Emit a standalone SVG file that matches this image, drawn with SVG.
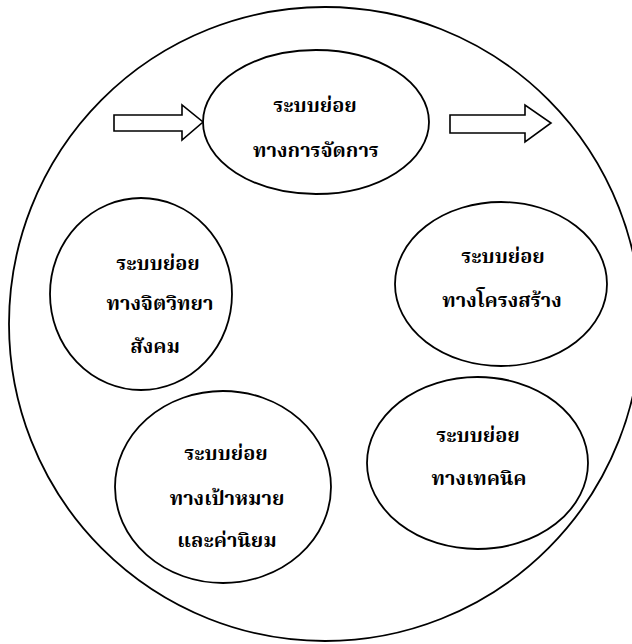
<svg xmlns="http://www.w3.org/2000/svg" width="632" height="644" viewBox="0 0 632 644">
<style>
.sh{fill:none;stroke:#000;stroke-width:1.8}
.ar{fill:#fff;stroke:#000;stroke-width:1.6;stroke-linejoin:miter}
.t{font-family:"Noto Serif Thai","Noto Sans Thai","Noto Sans","DejaVu Sans",serif;font-weight:bold;font-size:20px;text-anchor:middle;fill:#000}
</style>
<rect width="632" height="644" fill="#fff"/>
<g id="outer"><ellipse class="sh" cx="325" cy="324" rx="316" ry="317"/></g>
<g id="connectors">
<polygon class="ar" points="114,115 182,115 182,105 203,122 182,140 182,131 114,131"/>
<polygon class="ar" points="450,115 525,115 525,105 551,123 525,142 525,133 450,133"/>
</g>
<g id="management"><ellipse class="sh" cx="316" cy="122" rx="113" ry="72"/>
<text class="t" x="315" y="112">ระบบย่อย</text><text class="t" x="316" y="157">ทางการจัดการ</text></g>
<g id="psychosocial"><ellipse class="sh" cx="141" cy="294" rx="91" ry="96"/>
<text class="t" x="158" y="270">ระบบย่อย</text><text class="t" x="160" y="310">ทางจิตวิทยา</text><text class="t" x="155" y="353">สังคม</text></g>
<g id="structural"><ellipse class="sh" cx="501" cy="284" rx="106" ry="82"/>
<text class="t" x="503" y="263">ระบบย่อย</text><text class="t" x="502" y="307">ทางโครงสร้าง</text></g>
<g id="goals"><ellipse class="sh" cx="223" cy="487" rx="108" ry="96"/>
<text class="t" x="226" y="460">ระบบย่อย</text><text class="t" x="227" y="505">ทางเป้าหมาย</text><text class="t" x="227" y="547">และค่านิยม</text></g>
<g id="technical"><ellipse class="sh" cx="477.5" cy="463" rx="110.5" ry="86"/>
<text class="t" x="478" y="442">ระบบย่อย</text><text class="t" x="479" y="485">ทางเทคนิค</text></g>
</svg>
